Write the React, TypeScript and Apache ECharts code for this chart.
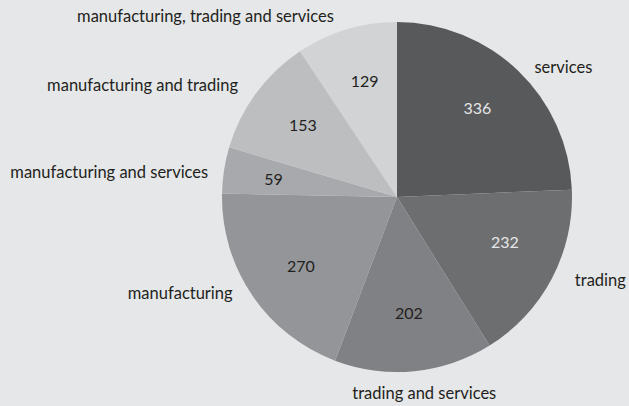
import React, { useEffect, useRef } from 'react';
import * as echarts from 'echarts';

const categories = [
  'services',
  'trading',
  'trading and services',
  'manufacturing',
  'manufacturing and services',
  'manufacturing and trading',
  'manufacturing, trading and services',
];
const values = [336, 232, 202, 270, 59, 153, 129];
const sliceColors = ['#58595b', '#6d6e70', '#808184', '#939598', '#a7a9ac', '#bcbec0', '#d1d3d4'];
const valueTextColors = ['#e6e7e8', '#e6e7e8', '#231f20', '#231f20', '#231f20', '#231f20', '#231f20'];
const nameShift = [[3, 5], [7.5, -4], [4, 10], [-4.5, -9], [1, 4], [-3.5, -1], [-4, -2]];
const valueShift = [[-4, -1], [0, -12], [0, -6], [5, 0], [-3, 0], [4, 0], [3, 0]];

const FONT = 'Lato';

export default function App() {
  const ref = useRef<HTMLDivElement>(null);
  useEffect(() => {
    document.body.style.margin = '0';
    const chart = echarts.init(ref.current!, undefined, { renderer: 'svg' });
    const data = categories.map((name, i) => ({
      name,
      value: values[i],
      itemStyle: { color: sliceColors[i] },
    }));
    chart.setOption({
      animation: false,
      backgroundColor: '#e6e7e8',
      series: [
        {
          type: 'pie',
          center: [397, 197],
          radius: [0, 175],
          startAngle: 90,
          clockwise: true,
          avoidLabelOverlap: false,
          silent: true,
          data,
          itemStyle: { borderWidth: 0 },
          label: {
            show: true,
            position: 'outside',
            formatter: '{b}',
            color: '#231f20',
            fontFamily: FONT,
            fontSize: 16.5,
          },
          labelLine: { show: false, length: 12, length2: 0 },
          labelLayout: (params: any) => {
            const i = params.dataIndex;
            const s = nameShift[i];
            const out: any = { dx: s[0], dy: s[1] };
            if (i === 2) out.align = 'center';
            return out;
          },
        },
        {
          type: 'pie',
          center: [397, 197],
          radius: [63, 175],
          startAngle: 90,
          clockwise: true,
          avoidLabelOverlap: false,
          silent: true,
          data: categories.map((name, i) => ({
            name,
            value: values[i],
            label: { color: valueTextColors[i] },
          })),
          itemStyle: { color: 'rgba(0,0,0,0)', borderWidth: 0 },
          label: {
            show: true,
            position: 'inside',
            formatter: '{c}',
            fontFamily: FONT,
            fontSize: 16,
          },
          labelLine: { show: false },
          labelLayout: (params: any) => {
            const s = valueShift[params.dataIndex];
            return { dx: s[0], dy: s[1] };
          },
        },
      ],
    });
    return () => chart.dispose();
  }, []);
  return <div ref={ref} style={{ width: 629, height: 406 }} />;
}
